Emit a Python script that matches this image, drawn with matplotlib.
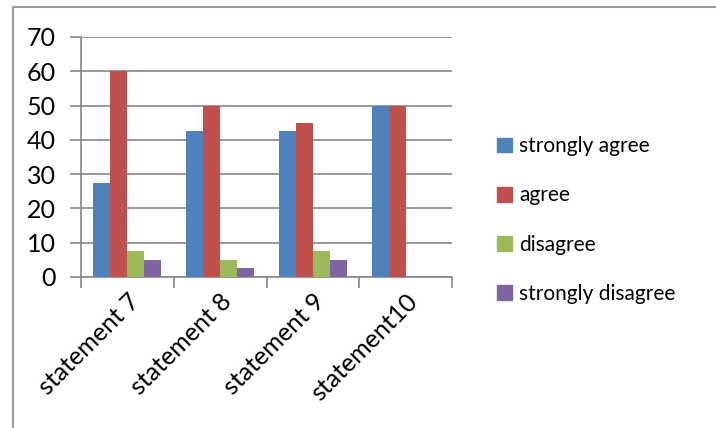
import numpy as np
import matplotlib.pyplot as plt
from matplotlib.lines import Line2D

categories = ['statement 7', 'statement 8', 'statement 9', 'statement10']
series_names = ['strongly agree', 'agree', 'disagree', 'strongly disagree']
strongly_agree = [27.5, 42.5, 42.5, 50]
agree = [60, 50, 45, 50]
disagree = [7.5, 5, 7.5, 0]
strongly_disagree = [5, 2.5, 5, 0]
y_ticks = [0, 10, 20, 30, 40, 50, 60, 70]

colors = ['#4F81BD', '#C0504D', '#9BBB59', '#8064A2']
grid_col = '#868686'

plt.rcParams['font.family'] = ['Lato', 'DejaVu Sans']

fig = plt.figure(figsize=(7.16, 4.28), dpi=100)
ax = fig.add_axes([81 / 716, 1 - 277 / 428, (452 - 81) / 716, (277 - 37) / 428])

values = [strongly_agree, agree, disagree, strongly_disagree]
x = np.arange(len(categories))
bw = 17 / 93
for i, (vals, name) in enumerate(zip(values, series_names)):
    ax.bar(x + (i - 1.5) * bw, vals, width=bw, color=colors[i], label=name, zorder=3)

ax.set_xlim(-0.5, len(categories) - 0.5)
ax.set_ylim(0, 70)
ax.set_yticks(y_ticks)
ax.set_yticklabels([str(t) for t in y_ticks], fontsize=18)
ax.yaxis.grid(True, color=grid_col, linewidth=1.2, zorder=0)

ax.set_xticks(np.arange(len(categories) + 1) - 0.5, minor=False)
ax.set_xticklabels([])
ax.set_xticks(x, minor=True)
ax.set_xticklabels(categories, minor=True, rotation=45, ha='right',
                   rotation_mode='anchor', fontsize=18)
ax.tick_params(axis='x', which='minor', length=0, pad=9)
ax.tick_params(axis='x', which='major', length=8, color=grid_col, width=1.2)
ax.tick_params(axis='y', length=8, color=grid_col, width=1.2, pad=10)

for s in ['top', 'right']:
    ax.spines[s].set_visible(False)
for s in ['left', 'bottom']:
    ax.spines[s].set_color(grid_col)
    ax.spines[s].set_linewidth(1.2)

handles = [plt.Rectangle((0, 0), 1, 1, color=c) for c in colors]
fig.legend(handles, series_names, loc='center left', bbox_to_anchor=(478 / 716, 1 - 220 / 428),
           frameon=False, fontsize=15, handlelength=0.72, handleheight=0.72,
           labelspacing=1.4, handletextpad=0.35)

# outer chart border
fig.add_artist(Line2D([12.5 / 716, 12.5 / 716], [0, 1 - 7 / 428], color='#999999', lw=1.5))
fig.add_artist(Line2D([12.5 / 716, 1], [1 - 7 / 428, 1 - 7 / 428], color='#999999', lw=1.5))

fig.savefig('out.png', dpi=100)
